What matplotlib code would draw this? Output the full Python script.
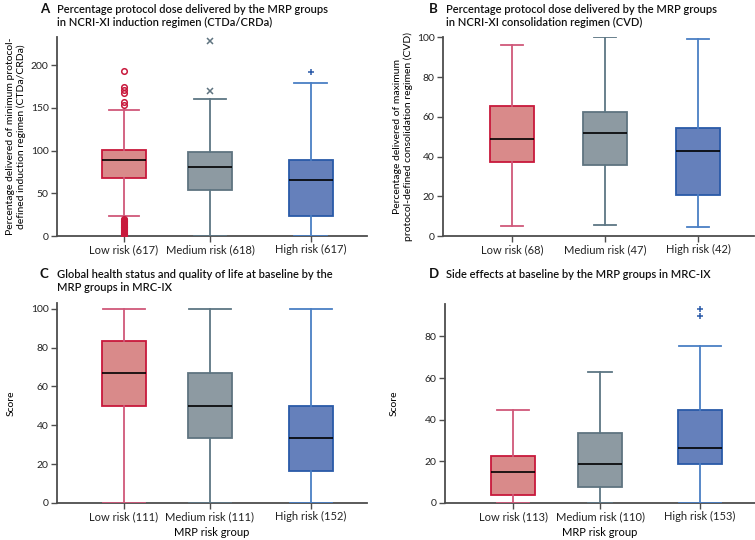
import matplotlib
matplotlib.use("Agg")
import matplotlib.pyplot as plt

plt.rcParams["font.family"] = ["Lato", "DejaVu Sans"]
plt.rcParams["font.size"] = 7.5

# ---- data ----
groups = ["Low risk", "Medium risk", "High risk"]

# A: induction regimen (CTDa/CRDa)
a_n = [617, 618, 617]
a_q1 = [67.5, 53.8, 23.4]
a_med = [88.9, 80.3, 65.5]
a_q3 = [100.4, 97.9, 88.9]
a_lo = [23.4, 0, 0]
a_hi = [148, 160, 178.6]
a_fliers = [
    [193, 175, 171, 168, 157, 153,
     0, 1, 2, 3, 4, 5, 6, 7, 8, 9, 10, 11, 12, 13, 14, 15, 16, 17, 18, 19, 20],
    [228, 170],
    [192],
]

# B: consolidation regimen (CVD)
b_n = [68, 47, 42]
b_q1 = [37.4, 35.7, 20.8]
b_med = [48.7, 52.0, 42.6]
b_q3 = [65.4, 62.6, 54.5]
b_lo = [5.0, 5.5, 4.4]
b_hi = [96.1, 100, 99.2]
b_fliers = [[], [], []]

# C: global health status / QoL
c_n = [111, 111, 152]
c_q1 = [50, 33.3, 16.7]
c_med = [66.7, 50, 33.3]
c_q3 = [83.3, 66.7, 50]
c_lo = [0, 0, 0]
c_hi = [100, 100, 100]
c_fliers = [[], [], []]

# D: side effects
d_n = [113, 110, 153]
d_q1 = [3.8, 7.5, 18.6]
d_med = [14.9, 18.7, 26.2]
d_q3 = [22.4, 33.4, 44.8]
d_lo = [0, 0, 0]
d_hi = [44.6, 63, 75.4]
d_fliers = [[], [], [93, 90]]

face = ["#d98a8a", "#8d9aa2", "#6580bb"]
edge = ["#c8193c", "#5f7480", "#2a5aa8"]
whisk = ["#d0587a", "#5d7684", "#4a7fc4"]
marks = ["o", "x", "+"]
axis_col = "#4d4d4d"


def make_stats(n, q1, med, q3, lo, hi, fliers):
    out = []
    for i in range(3):
        out.append(dict(label=f"{groups[i]} ({n[i]})", q1=q1[i], med=med[i],
                        q3=q3[i], whislo=lo[i], whishi=hi[i],
                        fliers=fliers[i]))
    return out


def draw(ax, stats, pos, width, capw, xlim, ylim, yticks):
    for i, st in enumerate(stats):
        ax.bxp([st], positions=[pos[i]], widths=width, capwidths=capw[i],
               patch_artist=True, showfliers=True,
               boxprops=dict(facecolor=face[i], edgecolor=edge[i], linewidth=1.3),
               medianprops=dict(color="black", linewidth=1.2),
               whiskerprops=dict(color=whisk[i], linewidth=1.3),
               capprops=dict(color=whisk[i], linewidth=1.3),
               flierprops=dict(marker=marks[i], markeredgecolor=edge[i],
                               markerfacecolor="none", markersize=4,
                               markeredgewidth=1.1, linestyle="none"))
    ax.set_xlim(*xlim)
    ax.set_ylim(*ylim)
    ax.set_yticks(yticks)
    ax.set_xticks(pos)
    ax.set_xticklabels([s["label"] for s in stats])
    for side in ["top", "right"]:
        ax.spines[side].set_visible(False)
    for side in ["left", "bottom"]:
        ax.spines[side].set_color(axis_col)
        ax.spines[side].set_linewidth(1.3)
        ax.spines[side].set_zorder(0.5)
    ax.tick_params(colors=axis_col, labelcolor="#222222", length=4, width=1,
                   labelsize=7.5, pad=2)
    ax.tick_params(axis="x", labelsize=8)


fig = plt.figure(figsize=(7.55, 5.4), dpi=100)
W, H = 755.0, 540.0


def add_axes(left, right, top, bottom):
    return fig.add_axes([left / W, 1 - bottom / H, (right - left) / W,
                         (bottom - top) / H])


axA = add_axes(57, 367, 37, 236)
axB = add_axes(443, 754, 37.3, 236)
axC = add_axes(57, 367, 302.9, 503)
axD = add_axes(445, 755, 304.3, 503)

draw(axA, make_stats(a_n, a_q1, a_med, a_q3, a_lo, a_hi, a_fliers),
     [1, 2, 3.17], 0.51, [0.36, 0.37, 0.38], (0.221, 3.826), (0, 233),
     [0, 50, 100, 150, 200])
draw(axB, make_stats(b_n, b_q1, b_med, b_q3, b_lo, b_hi, b_fliers),
     [1, 2, 3], 0.47, [0.23, 0.24, 0.24], (0.258, 3.60), (0, 100),
     [0, 20, 40, 60, 80, 100])
draw(axC, make_stats(c_n, c_q1, c_med, c_q3, c_lo, c_hi, c_fliers),
     [1, 2, 3.17], 0.51, [0.49, 0.49, 0.49], (0.221, 3.826), (0, 103),
     [0, 20, 40, 60, 80, 100])
draw(axD, make_stats(d_n, d_q1, d_med, d_q3, d_lo, d_hi, d_fliers),
     [1, 2, 3.15], 0.51, [0.37, 0.27, 0.49], (0.218, 3.78), (0, 95.4),
     [0, 20, 40, 60, 80])

axA.set_ylabel("Percentage delivered of minimum protocol-\n"
               "defined induction regimen (CTDa/CRDa)", fontsize=7.5,
               linespacing=1.2)
axA.yaxis.set_label_coords(-0.10, 0.5)
axB.set_ylabel("Percentage delivered of maximum\n"
               "protocol-defined consolidation regimen (CVD)", fontsize=7.5,
               linespacing=1.2)
axB.yaxis.set_label_coords(-0.095, 0.5)
axC.set_ylabel("Score", fontsize=7.5)
axC.yaxis.set_label_coords(-0.135, 0.5)
axD.set_ylabel("Score", fontsize=7.5)
axD.yaxis.set_label_coords(-0.15, 0.5)
for ax in (axC, axD):
    ax.set_xlabel("MRP risk group", fontsize=8, labelpad=3)


def panel_title(letter, lines, xl, xt, y):
    fig.text(xl / W, 1 - y / H, letter, fontsize=9.5, fontweight="bold",
             va="top", ha="left", color="#111111")
    fig.text(xt / W, 1 - (y + 1) / H, "\n".join(lines), fontsize=8,
             fontweight="semibold", va="top", ha="left", color="#111111",
             linespacing=1.25)


panel_title("A", ["Percentage protocol dose delivered by the MRP groups",
                  "in NCRI-XI induction regimen (CTDa/CRDa)"], 40, 57, 3)
panel_title("B", ["Percentage protocol dose delivered by the MRP groups",
                  "in NCRI-XI consolidation regimen (CVD)"], 429, 446, 3)
panel_title("C", ["Global health status and quality of life at baseline by the",
                  "MRP groups in MRC-IX"], 40, 57, 268)
panel_title("D", ["Side effects at baseline by the MRP groups in MRC-IX"],
            429, 446, 268)

fig.savefig("out.png", dpi=100)
